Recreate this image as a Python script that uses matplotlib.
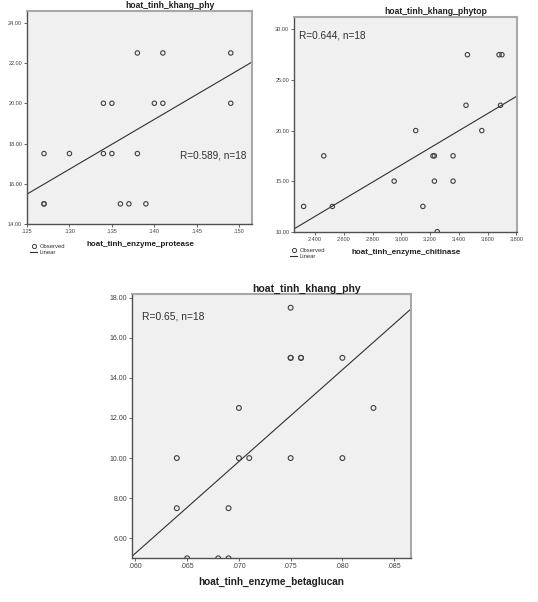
import numpy as np
import matplotlib
matplotlib.use("Agg")
import matplotlib.pyplot as plt
from matplotlib.ticker import FuncFormatter
from matplotlib.lines import Line2D

plt.rcParams['font.family'] = ['Liberation Sans', 'DejaVu Sans']

# Panel 1: protease vs khang_phy
x1 = [.127, .127, .127, .130, .134, .134, .135, .135, .136, .137, .139,
      .138, .138, .140, .141, .141, .149, .149]
y1 = [17.5, 15, 15, 17.5, 20, 17.5, 20, 17.5, 15, 15, 15,
      22.5, 17.5, 20, 22.5, 20, 22.5, 20]
r1_text = "R=0.589, n=18"

# Panel 2: chitinase vs khang_phytop
x2 = [2.32, 2.46, 2.52, 2.95, 3.10, 3.15, 3.22, 3.23, 3.23, 3.25, 3.36,
      3.36, 3.45, 3.46, 3.56, 3.68, 3.70, 3.69]
y2 = [12.5, 17.5, 12.5, 15, 20, 12.5, 17.5, 17.5, 15, 10, 17.5,
      15, 22.5, 27.5, 20, 27.5, 27.5, 22.5]
r2_text = "R=0.644, n=18"

# Panel 3: betaglucan vs khang_phy
x3 = [.064, .064, .065, .068, .069, .069, .070, .070, .071, .075, .075,
      .075, .076, .076, .075, .080, .080, .083]
y3 = [10, 7.5, 5, 5, 5, 7.5, 12.5, 10, 10, 17.5, 15,
      15, 15, 15, 10, 15, 10, 12.5]
r3_text = "R=0.65, n=18"

fig = plt.figure(figsize=(5.38, 6.02), dpi=100)

def style(ax):
    ax.set_facecolor('#f0f0f0')
    for s in ['top', 'right']:
        ax.spines[s].set_color('#a8a8a8')
        ax.spines[s].set_linewidth(1.5)
    for s in ['left', 'bottom']:
        ax.spines[s].set_color('#505050')
        ax.spines[s].set_linewidth(1.0)
    ax.tick_params(direction='out', length=2.5, width=0.6, colors='#505050',
                   labelcolor='#404040')

def nolead(dec):
    def f(v, pos):
        s = f"{v:.{dec}f}"
        if s.startswith("0."):
            s = s[1:]
        return s
    return FuncFormatter(f)

def panel(rect, x, y, xlim, ylim, xticks, yticks, xdec, title, title_x, title_y,
          xlabel, xl_x, xl_y, rtext, r_x, r_y, tsize, lsize, ticksize, rsize, ms):
    ax = fig.add_axes(rect)
    style(ax)
    ax.scatter(x, y, s=ms, facecolors='none', edgecolors='#404040', linewidths=0.8, zorder=3)
    k, b = np.polyfit(x, y, 1)
    xs = np.array(xlim)
    ax.plot(xs, k * xs + b, color='#303030', lw=0.8, zorder=2)
    ax.set_xlim(xlim)
    ax.set_ylim(ylim)
    ax.set_xticks(xticks)
    ax.set_yticks(yticks)
    ax.xaxis.set_major_formatter(nolead(xdec))
    ax.yaxis.set_major_formatter(FuncFormatter(lambda v, p: f"{v:.2f}"))
    ax.tick_params(labelsize=ticksize, pad=1)
    fig.text(title_x / 538, 1 - title_y / 602, title, ha='center', va='center',
             fontsize=tsize, fontweight='bold', color='#202020')
    fig.text(xl_x / 538, 1 - xl_y / 602, xlabel, ha='center', va='center',
             fontsize=lsize, fontweight='bold', color='#202020')
    fig.text(r_x / 538, 1 - r_y / 602, rtext, ha='left', va='center',
             fontsize=rsize, color='#303030')
    return ax

ax1 = panel([27 / 538, 1 - 224 / 602, 225 / 538, 213.3 / 602], x1, y1,
            (0.125, 0.1515), (14, 24.6), np.arange(0.125, 0.1501, 0.005),
            np.arange(14, 24.1, 2), 3, "hoat_tinh_khang_phy", 170, 5,
            "hoat_tinh_enzyme_protease", 140, 244, r1_text, 180, 156,
            6.2, 5.8, 4.0, 7.2, 10)
ax2 = panel([294 / 538, 1 - 231.7 / 602, 223.3 / 538, 214.4 / 602], x2, y2,
            (2.253, 3.807), (10, 31.2), np.arange(2.4, 3.801, 0.2),
            np.arange(10, 30.1, 5), 3, "hoat_tinh_khang_phytop", 436, 12,
            "hoat_tinh_enzyme_chitinase", 406, 252, r2_text, 299, 35,
            6.2, 5.8, 4.0, 7.2, 10)
ax3 = panel([132.3 / 538, 1 - 558.3 / 602, 278.4 / 538, 264 / 602], x3, y3,
            (0.0597, 0.0866), (5.0, 18.17), np.arange(0.060, 0.0851, 0.005),
            np.arange(6, 18.1, 2), 3, "hoat_tinh_khang_phy", 307, 289,
            "hoat_tinh_enzyme_betaglucan", 271, 582, r3_text, 142, 317,
            7.6, 7.2, 5.0, 7.4, 12)

# legends for the top panels
for (lx, ly) in [(30, 249), (290, 253)]:
    handles = [Line2D([], [], marker='o', linestyle='none', markerfacecolor='none',
                      markeredgecolor='#404040', markersize=3, markeredgewidth=0.7),
               Line2D([], [], color='#303030', lw=0.8)]
    fig.legend(handles, ['Observed', 'Linear'], loc='upper left',
               bbox_to_anchor=(lx / 538, 1 - (ly - 5) / 602), frameon=False,
               fontsize=4.2, handlelength=1.2, handletextpad=0.4, labelspacing=0.2,
               borderpad=0, borderaxespad=0, labelcolor='#303030')

fig.savefig("out.png", dpi=100)
